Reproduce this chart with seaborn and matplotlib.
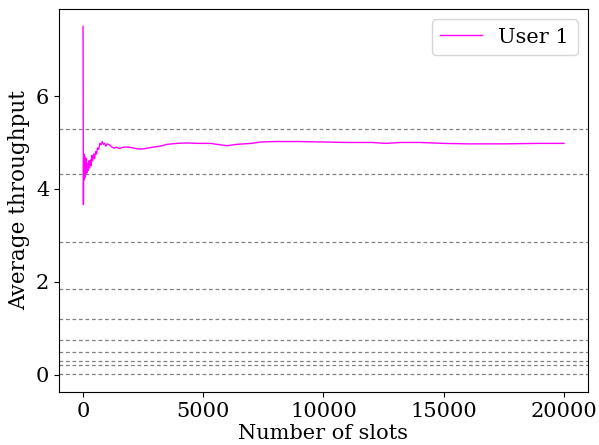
import matplotlib
matplotlib.use("Agg")
import matplotlib.pyplot as plt
import seaborn as sns
import pandas as pd

# Average throughput of User 1 versus slot index
slots = [0, 5, 10, 15, 25, 35, 45, 55, 70, 85, 100, 120, 140, 160, 185, 210,
         240, 270, 300, 330, 360, 400, 440, 480, 520, 560, 600, 650, 700, 750,
         800, 850, 900, 950, 1000, 1100, 1200, 1300, 1400, 1500, 1700, 1900,
         2100, 2300, 2500, 2700, 2900, 3200, 3500, 3900, 4300, 4800, 5300,
         5700, 6000, 6400, 7000, 7400, 8000, 9000, 10000, 11000, 12000, 12600,
         13200, 14000, 15000, 16000, 17500, 19000, 20000]
throughput = [7.5, 6.0, 5.0, 3.66, 4.6, 4.2, 4.75, 4.3, 4.7, 4.25, 4.6, 4.3,
              4.65, 4.35, 4.55, 4.4, 4.6, 4.45, 4.62, 4.5, 4.72, 4.6, 4.75,
              4.65, 4.8, 4.75, 4.88, 4.85, 4.98, 4.95, 5.02, 4.96, 4.98, 4.92,
              4.97, 4.95, 4.9, 4.88, 4.9, 4.87, 4.9, 4.9, 4.88, 4.86, 4.86,
              4.88, 4.9, 4.92, 4.96, 4.98, 4.99, 4.98, 4.98, 4.95, 4.93, 4.96,
              4.98, 5.01, 5.02, 5.02, 5.01, 5.0, 5.0, 4.98, 5.0, 5.0, 4.98,
              4.97, 4.97, 4.98, 4.98]

# Reference levels (dashed horizontal lines)
levels = [5.30, 4.32, 2.85, 1.84, 1.19, 0.74, 0.48, 0.30, 0.21, 0.02]

series_label = "User 1"
x_label = "Number of slots"
y_label = "Average throughput"

plt.rcParams["font.family"] = ["DejaVu Serif"]

df = pd.DataFrame({"slot": slots, "thr": throughput})

fig, ax = plt.subplots(figsize=(5.99, 4.45), dpi=100)
sns.lineplot(data=df, x="slot", y="thr", color="magenta", linewidth=1,
             label=series_label, ax=ax)
for lv in levels:
    ax.axhline(lv, color="gray", linestyle=(0, (3, 2.2)), linewidth=0.9)

ax.set_xlabel(x_label, fontsize=15, labelpad=2)
ax.set_ylabel(y_label, fontsize=15.5)
ax.tick_params(labelsize=15)
ax.set_xticks([0, 5000, 10000, 15000, 20000])
ax.set_yticks([0, 2, 4, 6])
ax.set_xlim(-1000, 21000)
ax.set_ylim(-0.375, 7.875)
ax.legend(loc="upper right", fontsize=15)

fig.subplots_adjust(left=0.0985, right=0.9816, top=0.9798, bottom=0.1191)
fig.savefig("out.png", dpi=100)
